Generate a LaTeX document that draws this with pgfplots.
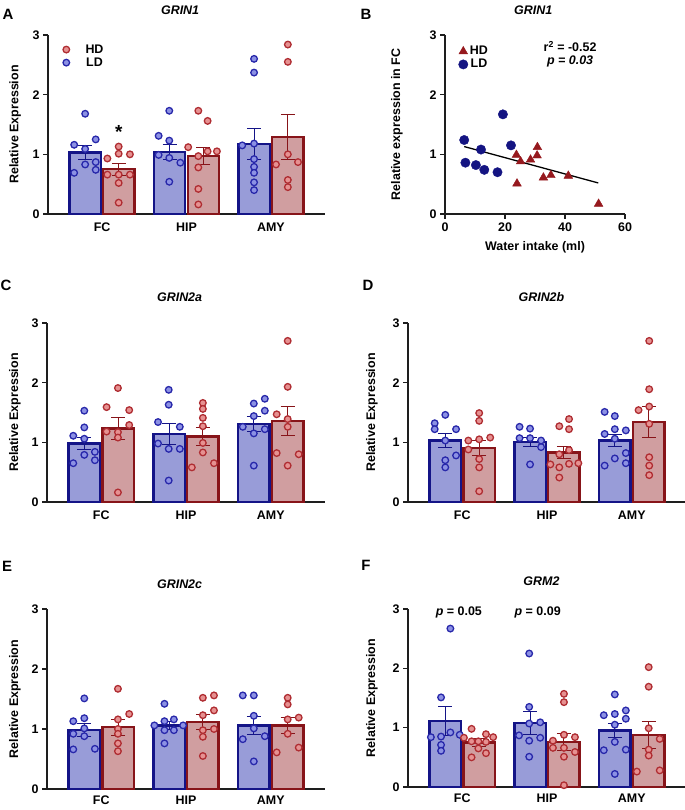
\documentclass[border=0pt]{standalone}
\usepackage{pgfplots}
\pgfplotsset{compat=1.18}
\usepackage{fontspec}
\setmainfont{Liberation Sans}
\newcommand{\lab}{\fontsize{12.5}{14}\selectfont\bfseries}
\definecolor{ldfill}{RGB}{152,156,216}
\definecolor{ldedge}{RGB}{20,20,135}
\definecolor{hdfill}{RGB}{208,158,160}
\definecolor{hdedge}{RGB}{135,20,25}
\definecolor{lddot}{RGB}{40,40,170}
\definecolor{lddotfill}{RGB}{140,145,228}
\definecolor{hddot}{RGB}{175,45,50}
\definecolor{hddotfill}{RGB}{230,145,145}
\definecolor{bnavy}{RGB}{20,20,130}
\definecolor{bred}{RGB}{150,25,30}
\definecolor{axgray}{RGB}{30,30,30}
\pgfplotsset{
  base/.style={scale only axis, ymin=0, ymax=3, ytick={0,1,2,3},
    axis x line=bottom, axis y line=left,
    axis line style={-, line width=1.3bp, axgray},
    tick align=outside, major tick length=5bp,
    tick style={line width=1.3bp, axgray},
    ticklabel style={font=\lab}, label style={font=\lab},
    /pgf/number format/assume math mode=true, clip=false},
  barpanel/.style={base, width=278bp, height=179bp, xmin=-0.64, xmax=2.64,
    xtick={0,1,2}, xticklabels={FC,HIP,AMY}, x tick style={draw=none},
    ylabel={Relative Expression}},
  ldbar/.style={ybar, bar width=0.37, bar shift=0pt, fill=ldfill, draw=ldedge, line width=2.3bp, forget plot,
    error bars/.cd, y dir=both, y explicit, error bar style={line width=1bp, draw=ldedge},
    error mark options={rotate=90, mark size=7bp, line width=1bp, draw=ldedge}},
  hdbar/.style={ybar, bar width=0.37, bar shift=0pt, fill=hdfill, draw=hdedge, line width=2.3bp, forget plot,
    error bars/.cd, y dir=both, y explicit, error bar style={line width=1bp, draw=hdedge},
    error mark options={rotate=90, mark size=7bp, line width=1bp, draw=hdedge}},
  lddots/.style={only marks, mark=*, mark size=3.3bp, mark options={draw=lddot, fill=lddotfill, line width=1.3bp}},
  hddots/.style={only marks, mark=*, mark size=3.3bp, mark options={draw=hddot, fill=hddotfill, line width=1.3bp}},
}
\begin{document}
\begin{tikzpicture}
\useasboundingbox (0,0) rectangle (685bp,810bp);
% panel letters
\node[font=\fontsize{15}{16}\selectfont\bfseries] at (8bp,796bp) {A};
\node[font=\fontsize{15}{16}\selectfont\bfseries] at (366bp,796bp) {B};
\node[font=\fontsize{15}{16}\selectfont\bfseries] at (6bp,525bp) {C};
\node[font=\fontsize{15}{16}\selectfont\bfseries] at (368bp,525bp) {D};
\node[font=\fontsize{15}{16}\selectfont\bfseries] at (7bp,244bp) {E};
\node[font=\fontsize{15}{16}\selectfont\bfseries] at (366bp,245bp) {F};

% ---------------- A ----------------
\begin{axis}[barpanel, at={(48bp,596bp)}, anchor=south west, width=277bp,
  title={\itshape GRIN1}, title style={at={(axis description cs:0.477,1.14)}, anchor=center, yshift=-6pt, font=\lab},
  ylabel style={at={(axis description cs:-0.119,0.5)}, anchor=center},
  legend image code/.code={\draw[#1] plot coordinates {(8bp,0bp)}; \path (0bp,0bp) (25bp,0bp);},
  legend style={at={(axis description cs:0.025,0.97)}, anchor=north west, draw=none, fill=none, font=\lab, row sep=-1bp}]
\addlegendimage{hddots}\addlegendentry{HD}
\addlegendimage{lddots}\addlegendentry{LD}
\addplot[ldbar] coordinates {(-0.2,1.03) +- (0,0.115) (0.8,1.04) +- (0,0.125) (1.8,1.17) +- (0,0.26)};
\addplot[hdbar] coordinates {(0.2,0.75) +- (0,0.10) (1.2,0.97) +- (0,0.145) (2.2,1.29) +- (0,0.37)};
\addplot[lddots, forget plot] coordinates {(-0.20,1.68) (-0.33,1.16) (-0.20,1.09) (-0.075,1.25) (-0.20,0.83) (-0.075,0.87) (-0.075,0.74) (-0.33,0.69)
 (0.796,1.73) (0.67,1.31) (0.796,1.23) (0.67,0.99) (0.796,0.94) (0.927,0.86) (0.796,0.54)
 (1.80,2.60) (1.80,2.37) (1.66,1.15) (1.80,1.18) (1.80,0.92) (1.80,0.79) (1.80,0.69) (1.80,0.53) (1.80,0.40)};
\addplot[hddots, forget plot] coordinates {(0.197,1.13) (0.063,0.93) (0.197,1.01) (0.33,1.0) (0.063,0.66) (0.197,0.66) (0.33,0.66) (0.197,0.52) (0.197,0.19)
 (1.14,1.73) (1.25,1.56) (1.02,1.12) (1.14,0.97) (1.25,1.05) (1.36,1.05) (1.14,0.78) (1.14,0.42) (1.14,0.16)
 (2.20,2.84) (2.20,2.55) (2.20,1.0) (2.06,0.83) (2.32,0.87) (2.20,0.57) (2.20,0.45)};
\node[font=\fontsize{19}{19}\selectfont\bfseries] at (axis cs:0.197,1.37) {*};
\end{axis}

% ---------------- B ----------------
\begin{axis}[base, at={(445bp,596bp)}, anchor=south west, width=180bp, height=179bp,
  xmin=0, xmax=60, xtick={0,20,40,60},
  xlabel={Water intake (ml)}, ylabel={Relative expression in FC},
  xlabel style={yshift=-3bp},
  title={\itshape GRIN1}, title style={at={(axis description cs:0.49,1.14)}, anchor=center, yshift=-6pt, font=\lab},
  ylabel style={at={(axis description cs:-0.267,0.5)}, anchor=center},
  legend image code/.code={\draw[#1] plot coordinates {(5bp,0bp)}; \path (0bp,0bp) (9bp,0bp);},
  legend style={at={(axis description cs:0.055,0.96)}, anchor=north west, draw=none, fill=none, font=\lab, row sep=-1bp}]
\addlegendimage{only marks, mark=triangle*, mark size=5bp, color=bred}\addlegendentry{HD}
\addlegendimage{only marks, mark=*, mark size=4.7bp, color=bnavy}\addlegendentry{LD}
\addplot[black, line width=1.3bp, forget plot] coordinates {(6.4,1.13) (51.1,0.52)};
\addplot[only marks, mark=*, mark size=4.7bp, color=bnavy, forget plot] coordinates {(6.4,1.24) (6.8,0.86) (12.0,1.08) (10.3,0.82) (13.1,0.74) (17.5,0.70) (19.3,1.67) (22.0,1.15)};
\addplot[only marks, mark=triangle*, mark size=5bp, color=bred, forget plot] coordinates {(23.8,0.99) (24.0,0.51) (25.2,0.88) (28.5,0.91) (30.8,1.12) (30.7,0.98) (32.8,0.61) (35.3,0.65) (41.1,0.64) (51.2,0.17)};
\node[font=\lab] at (axis cs:41.7,2.81) {r\textsuperscript{2} = -0.52};
\node[font=\lab\itshape] at (axis cs:41.7,2.56) {p = 0.03};
\end{axis}

% ---------------- C ----------------
\begin{axis}[barpanel, at={(47bp,308bp)}, anchor=south west,
  title={\itshape GRIN2a}, title style={at={(axis description cs:0.477,1.145)}, anchor=center, yshift=-6pt, font=\lab},
  ylabel style={at={(axis description cs:-0.115,0.5)}, anchor=center}]
\addplot[ldbar] coordinates {(-0.2,0.98) +- (0,0.105) (0.8,1.14) +- (0,0.17) (1.8,1.31) +- (0,0.13)};
\addplot[hdbar] coordinates {(0.2,1.23) +- (0,0.18) (1.2,1.10) +- (0,0.145) (2.2,1.36) +- (0,0.24)};
\addplot[lddots, forget plot] coordinates {(-0.20,1.53) (-0.20,1.25) (-0.33,1.11) (-0.20,1.06) (-0.20,0.79) (-0.075,0.84) (-0.075,0.70) (-0.33,0.65)
 (0.796,1.88) (0.796,1.63) (0.67,1.34) (0.927,1.26) (0.67,0.98) (0.796,0.89) (0.927,0.89) (0.796,0.36)
 (1.80,1.65) (1.93,1.73) (1.93,1.53) (1.80,1.44) (1.67,1.26) (1.80,1.15) (1.93,1.22) (1.80,0.61)};
\addplot[hddots, forget plot] coordinates {(0.197,1.91) (0.063,1.59) (0.33,1.54) (0.33,1.29) (0.063,1.18) (0.197,1.17) (0.197,1.08) (0.197,0.16)
 (1.199,1.66) (1.199,1.56) (1.199,1.41) (1.199,1.27) (1.199,0.99) (1.199,0.83) (1.069,0.58) (1.33,0.65)
 (2.20,2.70) (2.20,1.93) (2.07,1.47) (2.20,1.39) (2.20,1.26) (2.07,0.82) (2.33,0.80) (2.20,0.61)};
\end{axis}

% ---------------- D ----------------
\begin{axis}[barpanel, at={(408bp,308bp)}, anchor=south west,
  title={\itshape GRIN2b}, title style={at={(axis description cs:0.48,1.145)}, anchor=center, yshift=-6pt, font=\lab},
  ylabel style={at={(axis description cs:-0.13,0.5)}, anchor=center}]
\addplot[ldbar] coordinates {(-0.2,1.03) +- (0,0.11) (0.8,1.00) +- (0,0.075) (1.8,1.03) +- (0,0.10)};
\addplot[hdbar] coordinates {(0.2,0.91) +- (0,0.125) (1.2,0.83) +- (0,0.105) (2.2,1.34) +- (0,0.265)};
\addplot[lddots, forget plot] coordinates {(-0.2,1.46) (-0.325,1.32) (-0.325,1.22) (-0.073,1.22) (-0.2,1.03) (-0.073,0.78) (-0.2,0.70) (-0.2,0.58)
 (0.676,1.26) (0.8,1.23) (0.676,1.07) (0.8,1.07) (0.93,1.03) (0.93,0.92) (0.8,0.63)
 (1.68,1.51) (1.80,1.44) (1.68,1.14) (1.80,1.22) (1.93,1.20) (1.80,1.06) (1.93,0.82) (1.80,0.73) (1.93,0.65) (1.68,0.61)};
\addplot[hddots, forget plot] coordinates {(0.2,1.49) (0.2,1.36) (0.072,1.03) (0.2,1.05) (0.33,1.08) (0.072,0.88) (0.2,0.72) (0.2,0.58) (0.2,0.18)
 (1.26,1.39) (1.145,1.27) (1.26,1.22) (1.145,0.80) (1.26,0.87) (1.04,0.63) (1.145,0.58) (1.26,0.64) (1.37,0.65) (1.145,0.41)
 (2.206,2.70) (2.206,1.89) (2.08,1.54) (2.206,1.60) (2.206,1.31) (2.206,0.75) (2.206,0.61) (2.206,0.45)};
\end{axis}

% ---------------- E ----------------
\begin{axis}[barpanel, at={(47bp,21bp)}, anchor=south west, height=180bp,
  xticklabel style={yshift=2bp},
  title={\itshape GRIN2c}, title style={at={(axis description cs:0.477,1.14)}, anchor=center, yshift=-6pt, font=\lab},
  ylabel style={at={(axis description cs:-0.115,0.5)}, anchor=center}]
\addplot[ldbar] coordinates {(-0.2,0.98) +- (0,0.105) (0.8,1.06) +- (0,0.07) (1.8,1.06) +- (0,0.15)};
\addplot[hdbar] coordinates {(0.2,1.03) +- (0,0.13) (1.2,1.12) +- (0,0.125) (2.2,1.06) +- (0,0.13)};
\addplot[lddots, forget plot] coordinates {(-0.2,1.51) (-0.33,1.13) (-0.2,1.18) (-0.2,1.01) (-0.33,0.92) (-0.2,0.88) (-0.075,0.67) (-0.33,0.66)
 (0.746,1.42) (0.746,1.13) (0.857,1.16) (0.746,0.98) (0.857,0.98) (0.627,1.06) (0.966,1.06) (0.746,0.76)
 (1.67,1.56) (1.80,1.56) (1.80,1.22) (1.80,1.01) (1.67,0.83) (1.93,0.88) (1.80,0.46)};
\addplot[hddots, forget plot] coordinates {(0.197,1.67) (0.33,1.25) (0.197,1.16) (0.197,1.0) (0.197,0.92) (0.197,0.76) (0.197,0.63)
 (1.199,1.52) (1.33,1.56) (1.33,1.31) (1.199,1.23) (1.199,0.98) (1.33,1.0) (1.199,0.87) (1.199,0.55)
 (2.20,1.52) (2.20,1.41) (2.20,1.16) (2.33,1.19) (2.20,0.92) (2.07,0.61) (2.33,0.69)};
\end{axis}

% ---------------- F ----------------
\begin{axis}[barpanel, at={(408bp,23bp)}, anchor=south west, height=178bp,
  xticklabel style={yshift=2bp},
  title={\itshape GRM2}, title style={at={(axis description cs:0.48,1.157)}, anchor=center, yshift=-6pt, font=\lab},
  ylabel style={at={(axis description cs:-0.13,0.5)}, anchor=center}]
\addplot[ldbar] coordinates {(-0.2,1.11) +- (0,0.25) (0.8,1.08) +- (0,0.19) (1.8,0.95) +- (0,0.12)};
\addplot[hdbar] coordinates {(0.2,0.75) +- (0,0.075) (1.2,0.76) +- (0,0.15) (2.2,0.88) +- (0,0.23)};
\addplot[lddots, forget plot] coordinates {(-0.14,2.67) (-0.25,1.51) (-0.14,0.92) (-0.25,0.85) (-0.37,0.84) (-0.03,0.88) (-0.25,0.71) (-0.25,0.61)
 (0.79,2.25) (0.79,1.35) (0.79,1.07) (0.92,1.09) (0.67,0.87) (0.79,0.78) (0.92,0.83) (0.79,0.51)
 (1.80,1.56) (1.67,1.21) (1.80,1.23) (1.93,1.29) (1.93,1.15) (1.80,1.05) (1.80,0.76) (1.67,0.62) (1.93,0.63) (1.80,0.22)};
\addplot[hddots, forget plot] coordinates {(0.11,0.98) (0.02,0.83) (0.11,0.77) (0.19,0.77) (0.28,0.89) (0.365,0.84) (0.28,0.76) (0.11,0.50) (0.28,0.57) (0.19,0.65)
 (1.20,1.57) (1.20,1.43) (1.07,0.78) (1.20,0.88) (1.33,0.84) (1.07,0.66) (1.20,0.66) (1.33,0.59) (1.20,0.51) (1.20,0.03)
 (2.2,2.02) (2.2,1.69) (2.2,0.99) (2.2,0.63) (2.2,0.53) (2.06,0.26) (2.33,0.28) (2.33,0.81)};
\node[font=\lab] at (axis cs:-0.04,2.95) {\textit{p} = 0.05};
\node[font=\lab] at (axis cs:0.89,2.95) {\textit{p} = 0.09};
\end{axis}
\end{tikzpicture}
\end{document}
